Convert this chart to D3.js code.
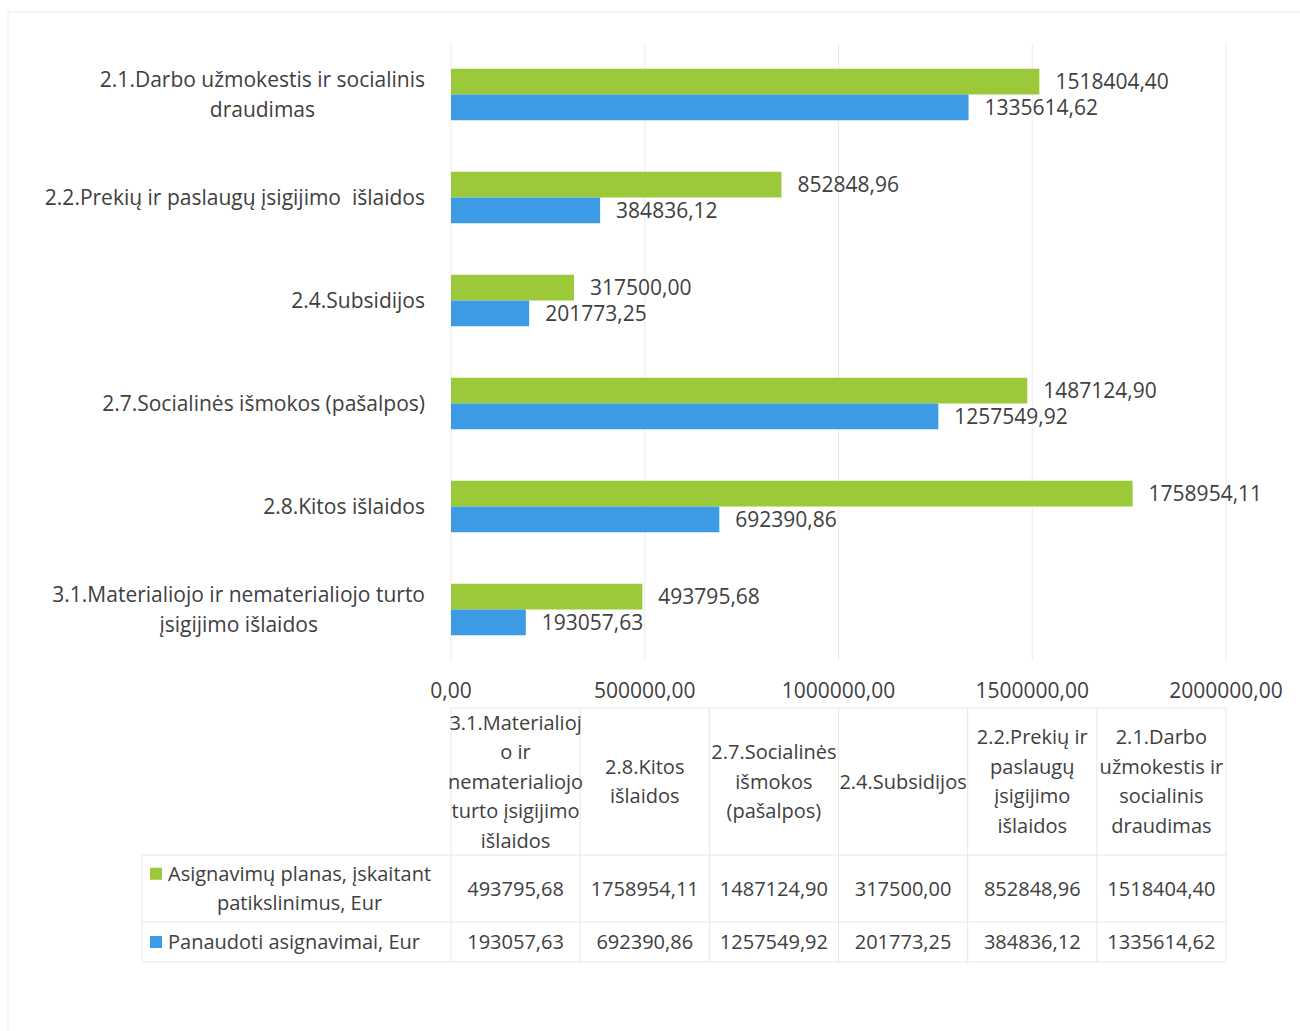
<!DOCTYPE html>
<html>
<head>
<meta charset="utf-8">
<script src="https://cdn.jsdelivr.net/npm/d3@7"></script>
<style>
  body { margin: 0; background: #fff; }
  svg text { font-family: "Open Sans", sans-serif; fill: #404040; white-space: pre; }
</style>
</head>
<body>
<svg id="chart" width="1300" height="1031"></svg>
<script>
"use strict";

// categories as they appear top to bottom on the bar chart
const categories = ['2.1', '2.2', '2.4', '2.7', '2.8', '3.1'];

// wrapped label lines for the category axis
const axisLabels = [
  ['2.1.Darbo užmokestis ir socialinis', 'draudimas'],
  ['2.2.Prekių ir paslaugų įsigijimo  išlaidos'],
  ['2.4.Subsidijos'],
  ['2.7.Socialinės išmokos (pašalpos)'],
  ['2.8.Kitos išlaidos'],
  ['3.1.Materialiojo ir nematerialiojo turto', 'įsigijimo išlaidos']
];

// wrapped header lines for the data table (same order as categories)
const tableHeaders = [
  ['2.1.Darbo', 'užmokestis ir', 'socialinis', 'draudimas'],
  ['2.2.Prekių ir', 'paslaugų', 'įsigijimo', 'išlaidos'],
  ['2.4.Subsidijos'],
  ['2.7.Socialinės', 'išmokos', '(pašalpos)'],
  ['2.8.Kitos', 'išlaidos'],
  ['3.1.Materialioj', 'o ir', 'nematerialiojo', 'turto įsigijimo', 'išlaidos']
];

const planValues = [1518404.40, 852848.96, 317500.00, 1487124.90, 1758954.11, 493795.68];
const usedValues = [1335614.62, 384836.12, 201773.25, 1257549.92, 692390.86, 193057.63];

const seriesKeys = ['plan', 'used'];
const seriesNames = [
  ['Asignavimų planas, įskaitant', 'patikslinimus, Eur'],
  ['Panaudoti asignavimai, Eur']
];
const seriesColors = ['#9cc93a', '#3d9be6'];

const xTicks = [0, 500000, 1000000, 1500000, 2000000];

const fmt = (v) => d3.format('.2f')(v).replace('.', ',');

const svg = d3.select('#chart');
const plot = { left: 451, right: 1226, top: 43, bottom: 661 };
const lineH = 29.5;

// faint chart area border
svg.append('path')
  .attr('d', 'M8,1031V12H1300')
  .attr('fill', 'none')
  .attr('stroke', '#ececec');

const x = d3.scaleLinear().domain([0, 2000000]).range([plot.left, plot.right]);
const y = d3.scaleBand().domain(categories).range([plot.top, plot.bottom])
  .paddingInner(0.5).paddingOuter(0.25);
const ySub = d3.scaleBand().domain(seriesKeys).range([0, y.bandwidth()]);

const rows = categories.map((c, i) => ({
  cat: c, plan: planValues[i], used: usedValues[i], label: axisLabels[i], header: tableHeaders[i]
}));

// gridlines
svg.append('g').selectAll('line').data(xTicks).join('line')
  .attr('x1', (d) => x(d)).attr('x2', (d) => x(d))
  .attr('y1', plot.top).attr('y2', plot.bottom)
  .attr('stroke', '#ebebeb');

// bars
const groups = svg.append('g').selectAll('g').data(rows).join('g')
  .attr('transform', (d) => 'translate(0,' + y(d.cat) + ')');

seriesKeys.forEach((key, si) => {
  groups.append('rect')
    .attr('x', x(0))
    .attr('y', ySub(key))
    .attr('width', (d) => x(d[key]) - x(0))
    .attr('height', ySub.bandwidth())
    .attr('fill', seriesColors[si]);

  groups.append('text')
    .attr('x', (d) => x(d[key]) + 16)
    .attr('y', ySub(key) + ySub.bandwidth() / 2)
    .attr('dy', '0.35em')
    .attr('font-size', 21)
    .text((d) => fmt(d[key]));
});

// category labels (multi-line blocks centered, block right-aligned)
const labelRight = 425;
rows.forEach((d) => {
  const cy = y(d.cat) + y.bandwidth() / 2;
  const g = svg.append('g');
  const texts = d.label.map((line, li) => g.append('text')
    .attr('y', cy + (li - (d.label.length - 1) / 2) * lineH)
    .attr('dy', '0.35em')
    .attr('font-size', 21)
    .attr('text-anchor', 'middle')
    .text(line));
  const maxW = d3.max(texts, (t) => t.node().getComputedTextLength());
  texts.forEach((t) => t.attr('x', labelRight - maxW / 2));
});

// value axis tick labels
svg.append('g').selectAll('text').data(xTicks).join('text')
  .attr('x', (d) => x(d))
  .attr('y', 691)
  .attr('dy', '0.35em')
  .attr('font-size', 21)
  .attr('text-anchor', 'middle')
  .text(fmt);

// data table
const tableCats = categories.slice().reverse();
const col = d3.scaleBand().domain(tableCats).range([plot.left, plot.right]);
const table = { top: 708, header: 855, row1: 922, bottom: 962, legendLeft: 142 };
const gridColor = '#e6e6e6';
const tg = svg.append('g');

tg.append('line')
  .attr('x1', plot.left).attr('x2', plot.right)
  .attr('y1', table.top).attr('y2', table.top)
  .attr('stroke', gridColor);
[table.header, table.row1, table.bottom].forEach((yy) => {
  tg.append('line')
    .attr('x1', table.legendLeft).attr('x2', plot.right)
    .attr('y1', yy).attr('y2', yy)
    .attr('stroke', gridColor);
});
tg.append('line')
  .attr('x1', table.legendLeft).attr('x2', table.legendLeft)
  .attr('y1', table.header).attr('y2', table.bottom)
  .attr('stroke', gridColor);
tableCats.concat([null]).forEach((c) => {
  const xx = c === null ? plot.right : col(c);
  tg.append('line')
    .attr('x1', xx).attr('x2', xx)
    .attr('y1', table.top).attr('y2', table.bottom)
    .attr('stroke', gridColor);
});

// header cells
const headerMid = (table.top + table.header) / 2;
rows.forEach((d) => {
  const cx = col(d.cat) + col.bandwidth() / 2;
  d.header.forEach((line, li) => {
    tg.append('text')
      .attr('x', cx)
      .attr('y', headerMid + (li - (d.header.length - 1) / 2) * lineH)
      .attr('dy', '0.35em')
      .attr('font-size', 20)
      .attr('text-anchor', 'middle')
      .text(line);
  });
});

// value cells
const rowMids = [(table.header + table.row1) / 2, (table.row1 + table.bottom) / 2];
seriesKeys.forEach((key, si) => {
  rows.forEach((d) => {
    tg.append('text')
      .attr('x', col(d.cat) + col.bandwidth() / 2)
      .attr('y', rowMids[si])
      .attr('dy', '0.35em')
      .attr('font-size', 20)
      .attr('text-anchor', 'middle')
      .text(fmt(d[key]));
  });
});

// legend cells
const legendTextLeft = 168;
seriesKeys.forEach((key, si) => {
  const lines = seriesNames[si];
  const firstY = rowMids[si] - (lines.length - 1) / 2 * lineH;
  tg.append('rect')
    .attr('x', 150).attr('y', firstY - 6)
    .attr('width', 12).attr('height', 12)
    .attr('fill', seriesColors[si]);
  const texts = lines.map((line, li) => tg.append('text')
    .attr('y', firstY + li * lineH)
    .attr('dy', '0.35em')
    .attr('font-size', 20)
    .attr('text-anchor', 'middle')
    .text(line));
  const maxW = d3.max(texts, (t) => t.node().getComputedTextLength());
  texts.forEach((t) => t.attr('x', legendTextLeft + maxW / 2));
});
</script>
</body>
</html>
